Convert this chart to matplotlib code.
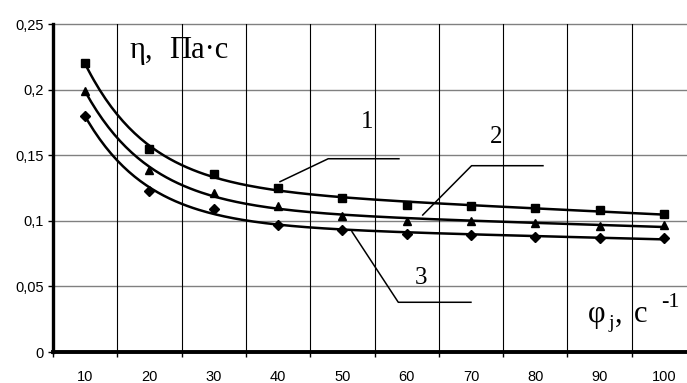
import numpy as np
import matplotlib.pyplot as plt

# shear rate categories, s^-1
shear_rate = [10, 20, 30, 40, 50, 60, 70, 80, 90, 100]

# viscosity, Pa*s
visc_1 = [0.220, 0.155, 0.136, 0.125, 0.117, 0.112, 0.111, 0.110, 0.108, 0.105]
visc_2 = [0.199, 0.139, 0.121, 0.111, 0.104, 0.100, 0.100, 0.098, 0.096, 0.097]
visc_3 = [0.180, 0.123, 0.109, 0.097, 0.093, 0.090, 0.089, 0.088, 0.087, 0.087]

y_ticks = [0, 0.05, 0.1, 0.15, 0.2, 0.25]
y_labels = ["0", "0,05", "0,1", "0,15", "0,2", "0,25"]

W, H = 687, 383
fig = plt.figure(figsize=(W / 100, H / 100), dpi=100)
# plot area runs past the right edge, as in the scan
ax = fig.add_axes([53 / W, 1 - 352 / H, 643 / W, 328 / H])

pos = np.arange(len(shear_rate))
xs = np.array(shear_rate, dtype=float)
xf = np.linspace(xs[0], xs[-1], 200)
pf = np.linspace(0, len(shear_rate) - 1, 200)


def basis(x, tau):
    return np.column_stack([np.ones_like(x), np.exp(-(x - xs[0]) / tau), x])


def trend(y):
    # least-squares trend  a + b*exp(-(x-10)/tau) + c*x, tau by grid search
    y = np.array(y)
    best = None
    for tau in np.linspace(4, 40, 181):
        A = basis(xs, tau)
        coef, *_ = np.linalg.lstsq(A, y, rcond=None)
        err = np.sum((A @ coef - y) ** 2)
        if best is None or err < best[0]:
            best = (err, tau, coef)
    _, tau, coef = best
    return basis(xf, tau) @ coef


for y, m, ms in [(visc_1, "s", 5.3), (visc_2, "^", 5.8), (visc_3, "D", 4.8)]:
    ax.plot(pf, trend(y), color="black", lw=1.8, zorder=3)
    ax.plot(pos, y, ls="none", marker=m, ms=ms, color="black", zorder=4)

ax.set_xlim(-0.5, len(shear_rate) - 0.5)
ax.set_ylim(0, 0.25)

ax.set_yticks(y_ticks)
ax.set_yticklabels(y_labels, fontfamily="Liberation Sans", fontsize=10.5)
ax.set_xticks(pos)
ax.set_xticklabels([str(v) for v in shear_rate], fontfamily="Liberation Sans", fontsize=10.5)
ax.set_xticks(np.arange(-0.5, len(shear_rate)), minor=True)
ax.tick_params(axis="x", which="major", length=0, pad=13)
ax.tick_params(axis="x", which="minor", length=3.5, width=1, direction="out")
ax.tick_params(axis="y", length=3.5, width=1, pad=3)

for v in y_ticks[1:]:
    ax.axhline(v, color="#808080", lw=1, zorder=1, clip_on=False)
for v in np.arange(0.5, len(shear_rate) - 0.5):
    ax.axvline(v, color="black", lw=0.8, zorder=1)

for s in ["top", "right"]:
    ax.spines[s].set_visible(False)
ax.spines["left"].set_linewidth(2.4)
ax.spines["bottom"].set_linewidth(2.8)

# callout lines and curve numbers
leader = dict(color="black", lw=1.1, zorder=2)
ax.plot([3.03, 3.78, 4.88], [0.1298, 0.1473, 0.1473], **leader)
ax.plot([5.25, 6.01, 7.12], [0.1044, 0.1420, 0.1420], **leader)
ax.plot([4.15, 4.87, 6.00], [0.0917, 0.0379, 0.0379], **leader)
serif = dict(fontfamily="Liberation Serif", fontsize=18, ha="center", va="center")
ax.text(4.38, 0.1755, "1", **serif)
ax.text(6.39, 0.164, "2", **serif)
ax.text(5.23, 0.0561, "3", **serif)

# axis titles (the scan is stretched sideways, so pieces are spaced out)
title = dict(fontfamily="Liberation Serif", fontsize=22, ha="left", va="baseline")
fig.text(129 / W, 1 - 58 / H, "η,", **title)
fig.text(169 / W, 1 - 58 / H, "Па·с", **title)
fig.text(588 / W, 1 - 322 / H, "φ", **title)
fig.text(608 / W, 1 - 328 / H, "j", fontfamily="Liberation Serif",
         fontsize=14, ha="left", va="baseline")
fig.text(615 / W, 1 - 322 / H, ",", **title)
fig.text(634 / W, 1 - 322 / H, "c", **title)
fig.text(661 / W, 1 - 307 / H, "-1", fontfamily="Liberation Serif",
         fontsize=16, ha="left", va="baseline")

fig.savefig("out.png", dpi=100)
